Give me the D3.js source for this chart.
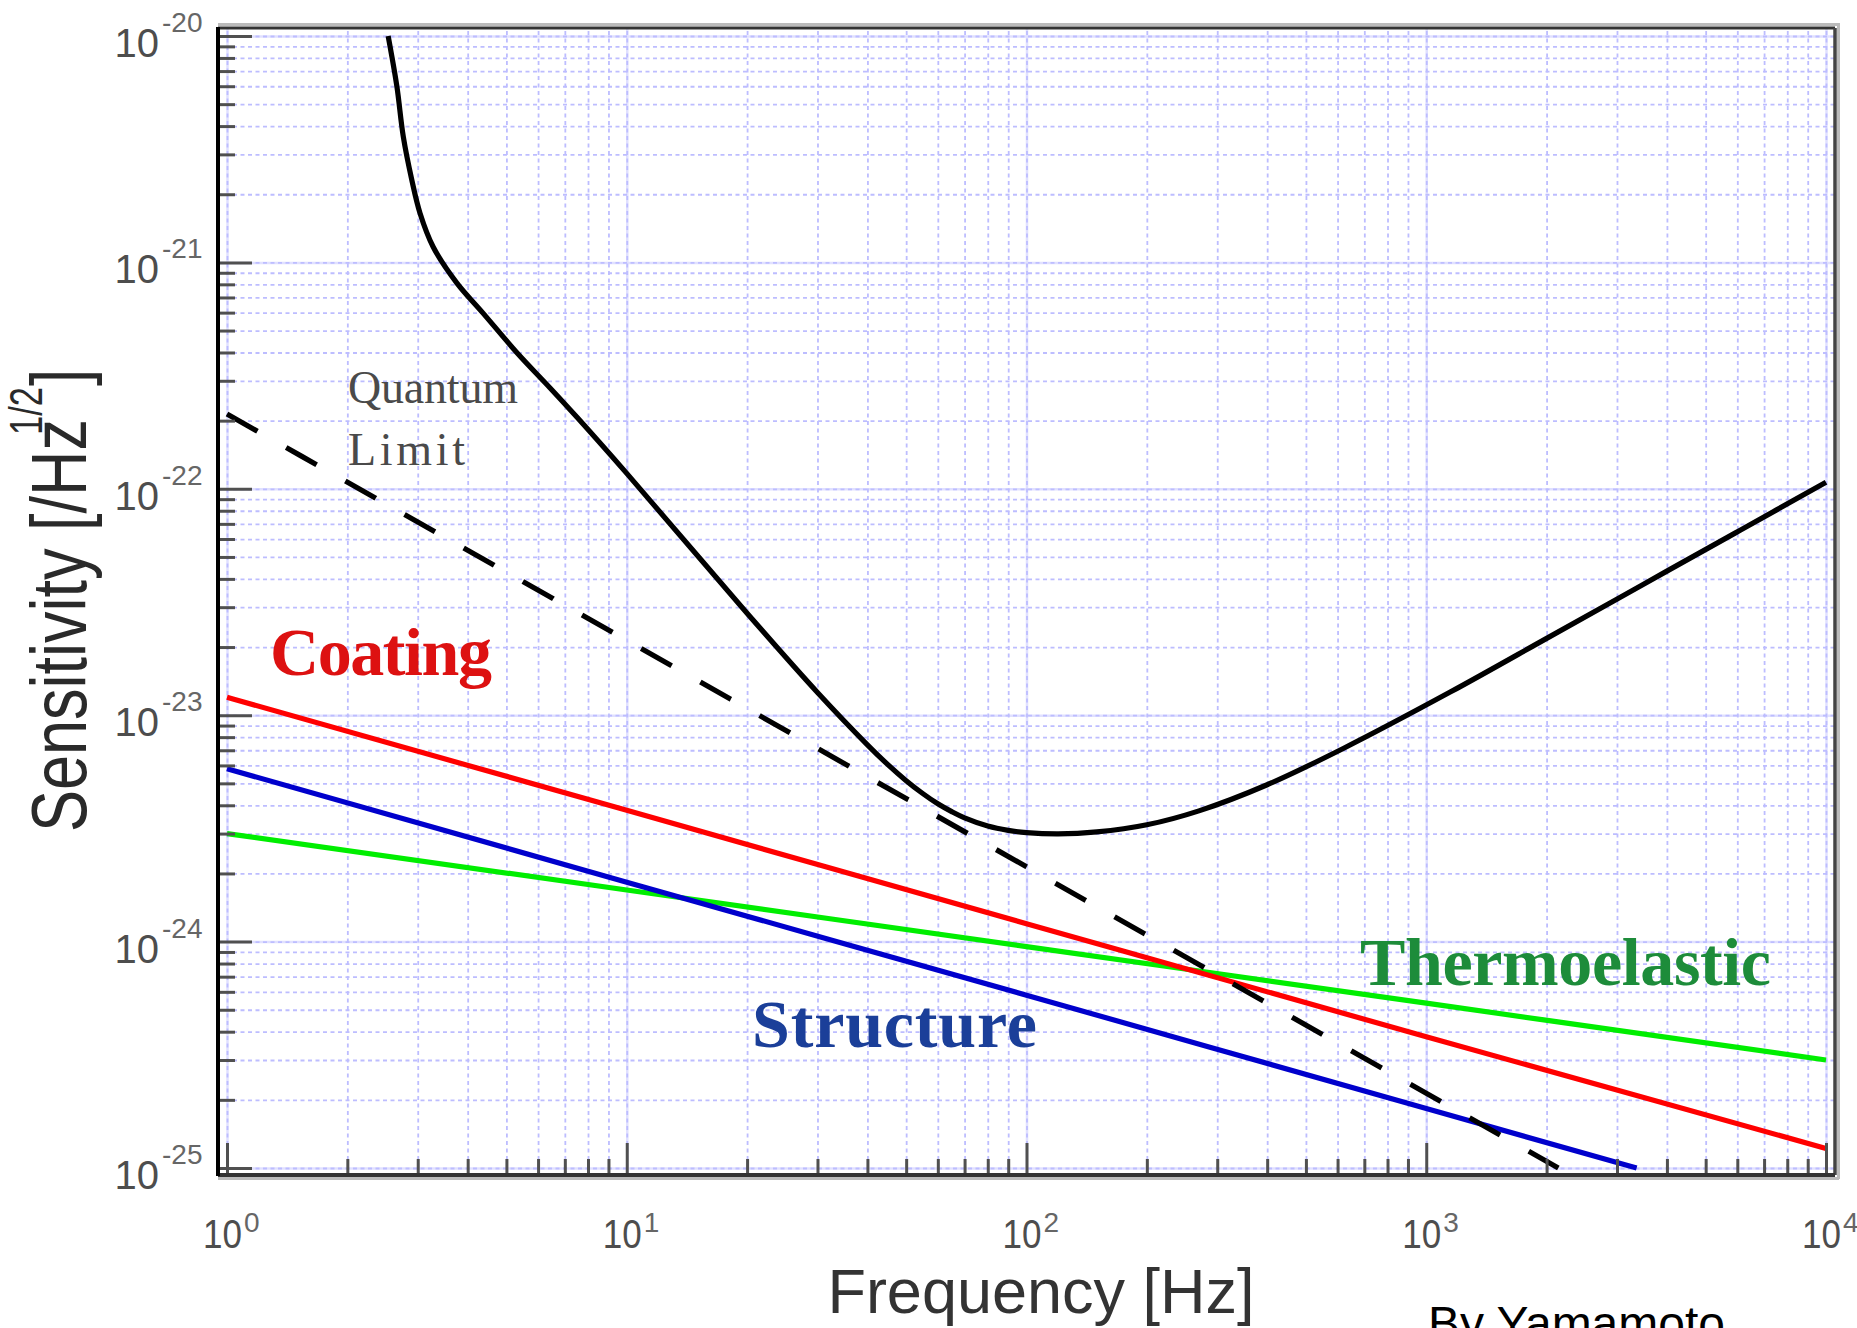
<!DOCTYPE html>
<html><head><meta charset="utf-8">
<script src="https://cdn.jsdelivr.net/npm/d3@7"></script>
<style>html,body{margin:0;padding:0;background:#fff;overflow:hidden}</style>
</head><body>
<svg id="chart" width="1857" height="1328" xmlns="http://www.w3.org/2000/svg"></svg>
<script>
// ---------- data ----------
const xTickExponents = [0, 1, 2, 3, 4];
const yTickExponents = [-20, -21, -22, -23, -24, -25];

const totalFreq = [2.53, 2.66, 2.76, 2.90, 3.04, 3.28, 3.76, 4.37, 5.32, 6.43, 7.51, 10, 20, 30, 40, 45, 50, 55, 60, 65, 70, 80, 90, 100, 120, 150, 200, 270, 400, 620, 1148, 2006, 3004, 4009, 6100, 10000];
const totalVal  = [1.0e-20, 6.0e-21, 3.6e-21, 2.31e-21, 1.65e-21, 1.17e-21, 8.1e-22, 5.97e-22, 3.98e-22, 2.79e-22, 2.07e-22, 1.17e-22, 2.82e-23, 1.26e-23, 7.40e-24, 6.05e-24, 5.14e-24, 4.51e-24, 4.06e-24, 3.75e-24, 3.52e-24, 3.24e-24, 3.10e-24, 3.03e-24, 2.99e-24, 3.05e-24, 3.28e-24, 3.78e-24, 4.93e-24, 7.13e-24, 1.265e-23, 2.19e-23, 3.26e-23, 4.34e-23, 6.56e-23, 1.07e-22];

const quantumFreq = [1, 10, 100, 1000, 2140];
const quantumVal  = [2.14e-22, 2.14e-23, 2.14e-24, 2.14e-25, 1.0e-25];

const coatingFreq = [1, 10, 100, 1000, 10000];
const coatingVal  = [1.2e-23, 3.8e-24, 1.2e-24, 3.8e-25, 1.22e-25];

const structureFreq = [1, 10, 100, 1000, 3360];
const structureVal  = [5.8e-24, 1.83e-24, 5.8e-25, 1.83e-25, 1.0e-25];

const thermoFreq = [1, 10, 100, 1000, 10000];
const thermoVal  = [3.0e-24, 1.69e-24, 9.5e-25, 5.35e-25, 3.0e-25];

// ---------- layout ----------
const frame = {l: 218, r: 1835, t: 28, b: 1175};
const x = d3.scaleLog().domain([1, 1e4]).range([227, 1826]);
const y = d3.scaleLog().domain([1e-20, 1e-25]).range([36, 1168]);

const svg = d3.select('#chart');
svg.append('rect').attr('width', 1857).attr('height', 1328).attr('fill', '#fff');

const majorX = xTickExponents.map(e => Math.pow(10, e));
const majorY = yTickExponents.map(e => +('1e' + e));
const minorX = [];
for (let k = 0; k < 4; k++) for (let m = 2; m <= 9; m++) minorX.push(+(m + 'e' + k));
const minorY = [];
for (let k = -25; k < -20; k++) for (let m = 2; m <= 9; m++) minorY.push(+(m + 'e' + k));

// ---------- grid ----------
function gridStyle(g, solid) {
  g.select('.domain').remove();
  g.selectAll('text').remove();
  g.selectAll('line')
    .attr('stroke', solid ? '#e0e0ff' : '#bdbdff')
    .attr('stroke-width', solid ? 2.5 : 1.8)
    .attr('stroke-dasharray', solid ? null : '4,3.5');
}
const gridG = svg.append('g');
gridG.append('g').attr('transform', `translate(0,${frame.b})`)
  .call(d3.axisBottom(x).tickValues(majorX).tickSize(-(frame.b - frame.t)).tickFormat(''))
  .call(g => gridStyle(g, true));
gridG.append('g').attr('transform', `translate(${frame.l},0)`)
  .call(d3.axisLeft(y).tickValues(majorY).tickSize(-(frame.r - frame.l)).tickFormat(''))
  .call(g => gridStyle(g, true));
gridG.append('g').attr('transform', `translate(0,${frame.b})`)
  .call(d3.axisBottom(x).tickValues(majorX.concat(minorX)).tickSize(-(frame.b - frame.t)).tickFormat(''))
  .call(g => gridStyle(g, false));
gridG.append('g').attr('transform', `translate(${frame.l},0)`)
  .call(d3.axisLeft(y).tickValues(majorY.concat(minorY)).tickSize(-(frame.r - frame.l)).tickFormat(''))
  .call(g => gridStyle(g, false));

// ---------- curves ----------
svg.append('clipPath').attr('id', 'plotclip')
  .append('rect').attr('x', frame.l).attr('y', frame.t).attr('width', frame.r - frame.l).attr('height', frame.b - frame.t);
const curveG = svg.append('g').attr('clip-path', 'url(#plotclip)');

function series(fr, vals) { return fr.map((f, i) => [f, vals[i]]); }
const line = d3.line().x(d => x(d[0])).y(d => y(d[1])).curve(d3.curveMonotoneX);
const smooth = d3.line().x(d => x(d[0])).y(d => y(d[1])).curve(d3.curveCatmullRom.alpha(0.5));

const LW = 5.2;
curveG.append('path').datum(series(thermoFreq, thermoVal))
  .attr('d', line).attr('fill', 'none').attr('stroke', '#00ee00').attr('stroke-width', LW);
curveG.append('path').datum(series(structureFreq, structureVal))
  .attr('d', line).attr('fill', 'none').attr('stroke', '#0000cc').attr('stroke-width', LW);
curveG.append('path').datum(series(coatingFreq, coatingVal))
  .attr('d', line).attr('fill', 'none').attr('stroke', '#ff0000').attr('stroke-width', LW);
curveG.append('path').datum(series(quantumFreq, quantumVal))
  .attr('d', line).attr('fill', 'none').attr('stroke', '#000').attr('stroke-width', LW)
  .attr('stroke-dasharray', '35,33');
curveG.append('path').datum(series(totalFreq, totalVal))
  .attr('d', smooth).attr('fill', 'none').attr('stroke', '#000').attr('stroke-width', LW)
  .attr('stroke-linejoin', 'round');

// ---------- curve labels ----------
const serif = '"Liberation Serif", "DejaVu Serif", serif';
function label(txt, px, py, size, weight, color, len) {
  svg.append('text').attr('x', px).attr('y', py)
    .attr('font-family', serif).attr('font-size', size).attr('font-weight', weight)
    .attr('fill', color).attr('textLength', len).attr('lengthAdjust', 'spacing')
    .text(txt);
}
label('Quantum', 348, 403, 46, 'normal', '#4a4a4a', 170);
label('Limit', 348, 465, 46, 'normal', '#4a4a4a', 117);
label('Coating', 270, 675, 68, 'bold', '#dd1111', 222);
label('Structure', 752, 1047, 68, 'bold', '#1b3f99', 285);
label('Thermoelastic', 1360, 985, 68, 'bold', '#1d8c3a', 411);

// ---------- ticks ----------
function tickStyle(g) {
  g.select('.domain').remove();
  g.selectAll('text').remove();
  g.selectAll('line').attr('stroke', '#505050').attr('stroke-width', 3);
}
svg.append('g').attr('transform', `translate(0,${frame.b})`)
  .call(d3.axisBottom(x).tickValues(minorX).tickSize(-16).tickFormat('')).call(tickStyle);
svg.append('g').attr('transform', `translate(0,${frame.b})`)
  .call(d3.axisBottom(x).tickValues(majorX).tickSize(-32).tickFormat('')).call(tickStyle);
svg.append('g').attr('transform', `translate(${frame.l},0)`)
  .call(d3.axisLeft(y).tickValues(minorY).tickSize(-17).tickFormat('')).call(tickStyle);
svg.append('g').attr('transform', `translate(${frame.l},0)`)
  .call(d3.axisLeft(y).tickValues(majorY).tickSize(-34).tickFormat('')).call(tickStyle);

// ---------- frame ----------
const fr = svg.append('g');
fr.append('line').attr('x1', frame.l).attr('x2', frame.r + 5).attr('y1', 24.5).attr('y2', 24.5).attr('stroke', '#bbb').attr('stroke-width', 3);
fr.append('line').attr('x1', frame.l).attr('x2', frame.r).attr('y1', frame.t).attr('y2', frame.t).attr('stroke', '#333').attr('stroke-width', 3);
fr.append('line').attr('x1', frame.r + 3.5).attr('x2', frame.r + 3.5).attr('y1', 24).attr('y2', frame.b + 4).attr('stroke', '#bbb').attr('stroke-width', 3);
fr.append('line').attr('x1', frame.r).attr('x2', frame.r).attr('y1', frame.t).attr('y2', frame.b).attr('stroke', '#444').attr('stroke-width', 3.5);
fr.append('line').attr('x1', frame.l).attr('x2', frame.r + 4).attr('y1', frame.b + 3.5).attr('y2', frame.b + 3.5).attr('stroke', '#bbb').attr('stroke-width', 3);
fr.append('line').attr('x1', frame.l).attr('x2', frame.r).attr('y1', frame.b).attr('y2', frame.b).attr('stroke', '#333').attr('stroke-width', 4);
fr.append('line').attr('x1', frame.l).attr('x2', frame.l).attr('y1', frame.t - 1).attr('y2', frame.b + 1).attr('stroke', '#000').attr('stroke-width', 4);

// ---------- tick labels ----------
const sans = '"Liberation Sans", Arial, sans-serif';
yTickExponents.forEach(e => {
  const ty = y(+('1e' + e));
  svg.append('text').attr('x', 159).attr('y', ty + 21).attr('text-anchor', 'end')
    .attr('font-family', sans).attr('font-size', 40).attr('fill', '#4d4d4d').text('10');
  svg.append('text').attr('x', 162).attr('y', ty - 4).attr('text-anchor', 'start')
    .attr('font-family', sans).attr('font-size', 28).attr('fill', '#666').text('-' + Math.abs(e));
});
xTickExponents.forEach(e => {
  const tx = x(Math.pow(10, e));
  svg.append('text').attr('x', tx - 24).attr('y', 1248).attr('text-anchor', 'start')
    .attr('font-family', sans).attr('font-size', 40).attr('fill', '#4d4d4d')
    .attr('textLength', 39).attr('lengthAdjust', 'spacingAndGlyphs').text('10');
  svg.append('text').attr('x', tx + 17).attr('y', 1232).attr('text-anchor', 'start')
    .attr('font-family', sans).attr('font-size', 28).attr('fill', '#666').text(String(e));
});

// ---------- axis titles ----------
svg.append('text').attr('x', 1041).attr('y', 1313).attr('text-anchor', 'middle')
  .attr('font-family', sans).attr('font-size', 63).attr('fill', '#333').text('Frequency [Hz]');

const yt = svg.append('g').attr('transform', 'translate(86,832) rotate(-90)')
  .attr('font-family', sans).attr('fill', '#2a2a2a');
yt.append('text').attr('x', 0).attr('y', 0).attr('font-size', 77)
  .attr('textLength', 413).attr('lengthAdjust', 'spacingAndGlyphs').text('Sensitivity [/Hz');
yt.append('text').attr('x', 397).attr('y', -44).attr('font-size', 46)
  .attr('textLength', 48).attr('lengthAdjust', 'spacingAndGlyphs').text('1/2');
yt.append('text').attr('x', 446).attr('y', 0).attr('font-size', 77)
  .attr('textLength', 17).attr('lengthAdjust', 'spacingAndGlyphs').text(']');

svg.append('text').attr('x', 1428).attr('y', 1340)
  .attr('font-family', sans).attr('font-size', 48).attr('fill', '#000').text('By Yamamoto');
</script>
</body></html>
